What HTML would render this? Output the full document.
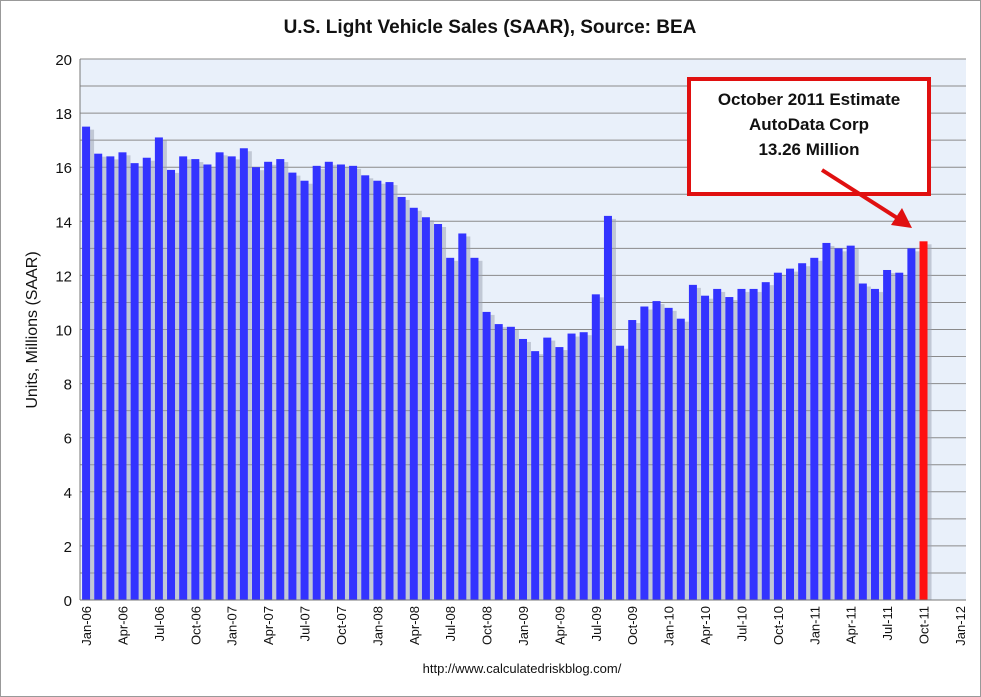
<!DOCTYPE html>
<html><head><meta charset="utf-8"><style>
html,body{margin:0;padding:0;background:#fff;}
svg{display:block;font-family:"Liberation Sans",sans-serif;}
</style></head><body>
<svg id="c" width="981" height="697">
<rect x="0.5" y="0.5" width="980" height="696" fill="#fff" stroke="#999"/>
<text x="490" y="33" text-anchor="middle" font-size="19" font-weight="bold" fill="#111">U.S. Light Vehicle Sales (SAAR), Source: BEA</text>
<text transform="translate(37,330) rotate(-90)" text-anchor="middle" font-size="16" fill="#111">Units, Millions (SAAR)</text>
<text x="522" y="673" text-anchor="middle" font-size="13" fill="#111">http://www.calculatedriskblog.com/</text>
<g id="plot"></g>
<g>
<rect x="689" y="79" width="240" height="115" fill="#fff" stroke="#e01010" stroke-width="4"/>
<text x="809" y="105" text-anchor="middle" font-size="17" font-weight="bold" fill="#111">October  2011 Estimate</text>
<text x="809" y="130" text-anchor="middle" font-size="17" font-weight="bold" fill="#111">AutoData  Corp</text>
<text x="809" y="155" text-anchor="middle" font-size="17" font-weight="bold" fill="#111">13.26 Million</text>
<line x1="822" y1="170" x2="902" y2="221" stroke="#e01010" stroke-width="4"/>
<polygon points="912,228 891,225 902,208" fill="#e01010"/>
</g>
</svg>
<script>
const categoryStart = ["Jan", 2006];
const monthNames = ["Jan","Feb","Mar","Apr","May","Jun","Jul","Aug","Sep","Oct","Nov","Dec"];
const sales = [17.5,16.5,16.4,16.55,16.15,16.35,17.1,15.9,16.4,16.3,16.1,16.55,
16.4,16.7,16.0,16.2,16.3,15.8,15.5,16.05,16.2,16.1,16.05,15.7,
15.5,15.45,14.9,14.5,14.15,13.9,12.65,13.55,12.65,10.65,10.2,10.1,
9.65,9.2,9.7,9.35,9.85,9.9,11.3,14.2,9.4,10.35,10.85,11.05,
10.8,10.4,11.65,11.25,11.5,11.2,11.5,11.5,11.75,12.1,12.25,12.45,
12.65,13.2,13.0,13.1,11.7,11.5,12.2,12.1,13.0,13.26];
const estimateIndex = [69];
const yTicks = [0,2,4,6,8,10,12,14,16,18,20];
const nCategories = 73;
const NS="http://www.w3.org/2000/svg";
const L=80,R=966,T=59,B=600,yMax=20;
const bw=(R-L)/nCategories;
const y=v=>B-(v/yMax)*(B-T);
const x=i=>L+(i+0.5)*bw;
const g=document.getElementById('plot');
function mk(t,a){const e=document.createElementNS(NS,t);for(const k in a)e.setAttribute(k,a[k]);g.appendChild(e);return e;}
let e=mk('rect',{x:L,y:T,width:R-L,height:B-T,fill:'#e9f0fa'});


for(let v=0;v<=yMax;v++){
 e=mk('line',{x1:L,x2:R,y1:y(v),y2:y(v),stroke:'#8a8a8a','stroke-width':1});
 
 
}
yTicks.forEach(v=>{
 e=mk('text',{x:L-8,y:y(v)+6,'text-anchor':'end','font-size':15,fill:'#111'});
 e.textContent=v;
 
 
});
sales.forEach((v,i)=>{
 const red=estimateIndex.includes(i);
 e=mk('rect',{x:x(i)-3+3,y:y(v)+3,width:8,height:B-y(v)-3,fill:'#9aa0b0',opacity:0.5});
 
 
 e=mk('rect',{x:x(i)-4,y:y(v),width:8,height:B-y(v),fill:red?'#ff1010':'#3333ff'});
 
 
});
e=mk('line',{x1:L,x2:L,y1:T,y2:B,stroke:'#777'});


e=mk('line',{x1:L,x2:R,y1:B,y2:B,stroke:'#777'});


for(let i=0;i<nCategories;i+=3){
 const m=i%12, yr=categoryStart[1]+Math.floor(i/12);
 const lab=monthNames[m]+'-'+String(yr%100).padStart(2,'0');
 e=mk('text',{transform:`translate(${x(i)+5},${B+6}) rotate(-90)`,'text-anchor':'end','font-size':13,fill:'#111'});
 e.textContent=lab;
 
 
}
</script>
</body></html>
